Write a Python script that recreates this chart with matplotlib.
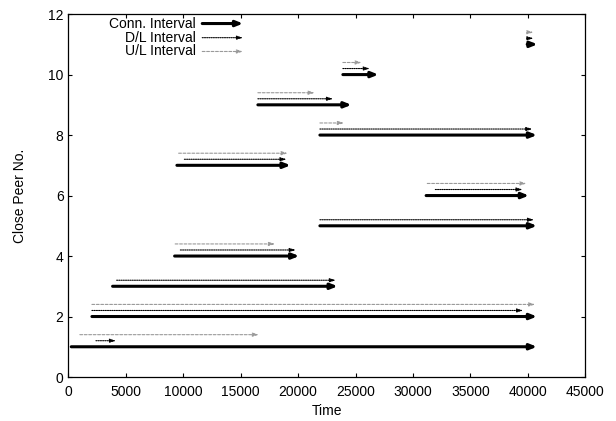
import matplotlib
matplotlib.use('Agg')
import matplotlib.pyplot as plt

plt.rcParams['font.family'] = ['Liberation Sans', 'DejaVu Sans']

# per close peer: connection, download and upload intervals (time units)
peers = [1, 2, 3, 4, 5, 6, 7, 8, 9, 10, 11]
conn_start = [250, 2050, 3850, 9250, 21900, 31150, 9450, 21900, 16500, 23900, 39950]
conn_end = [40800, 40800, 23450, 20100, 40800, 40100, 19350, 40800, 24650, 27000, 40850]
dl_start = [2400, 2050, 4200, 9750, 21900, 31950, 10100, 21900, 16500, 23900, 39950]
dl_end = [4150, 39600, 23300, 19800, 40550, 39550, 19000, 40400, 23050, 26250, 40500]
ul_start = [1000, 2050, None, 9300, None, 31250, 9600, 21900, 16500, 23900, 39950]
ul_end = [16600, 40650, None, 18000, None, 39900, 19100, 24000, 21450, 25550, 40500]

dl_off = 0.2
ul_off = 0.4

conn_style = dict(arrowstyle='-|>,head_length=0.4,head_width=0.16', lw=2.2,
                  color='black', shrinkA=0, shrinkB=0)
dl_style = dict(arrowstyle='-|>,head_length=0.35,head_width=0.11', lw=0.8,
                color='black', linestyle=(0, (1, 1)), shrinkA=0, shrinkB=0)
ul_style = dict(arrowstyle='-|>,head_length=0.35,head_width=0.11', lw=0.8,
                color='#9a9a9a', linestyle=(0, (2.5, 1.5)), shrinkA=0, shrinkB=0)

fig = plt.figure(figsize=(6.16, 4.21), dpi=100)
ax = fig.add_axes([0.111, 0.1045, 0.839, 0.862])

def arrow(x0, x1, y, style, coords='data'):
    ax.annotate('', xy=(x1, y), xytext=(x0, y), xycoords=coords,
                textcoords=coords, arrowprops=style)

for i, p in enumerate(peers):
    arrow(conn_start[i], conn_end[i], p, conn_style)
    arrow(dl_start[i], dl_end[i], p + dl_off, dl_style)
    if ul_start[i] is not None:
        arrow(ul_start[i], ul_end[i], p + ul_off, ul_style)

# legend drawn gnuplot-style in the upper left
leg_labels = ['Conn. Interval', 'D/L Interval', 'U/L Interval']
leg_styles = [conn_style, dl_style, ul_style]
leg_y = [0.974, 0.935, 0.897]
for lab, st, yy in zip(leg_labels, leg_styles, leg_y):
    ax.text(0.246, yy, lab, transform=ax.transAxes, ha='right', va='center',
            fontsize=10)
    arrow(0.259, 0.338, yy, st, coords='axes fraction')

ax.set_xlim(0, 45000)
ax.set_ylim(0, 12)
ax.set_xticks(range(0, 45001, 5000))
ax.set_yticks(range(0, 13, 2))
ax.tick_params(direction='in', length=3, width=0.8, top=True, right=True,
               labelsize=10)
ax.tick_params(axis='x', pad=6)
ax.set_xlabel('Time', fontsize=10, labelpad=3)
ax.set_ylabel('Close Peer No.', fontsize=10, labelpad=15)
for s in ax.spines.values():
    s.set_linewidth(0.9)

fig.savefig('out.png', dpi=100)
